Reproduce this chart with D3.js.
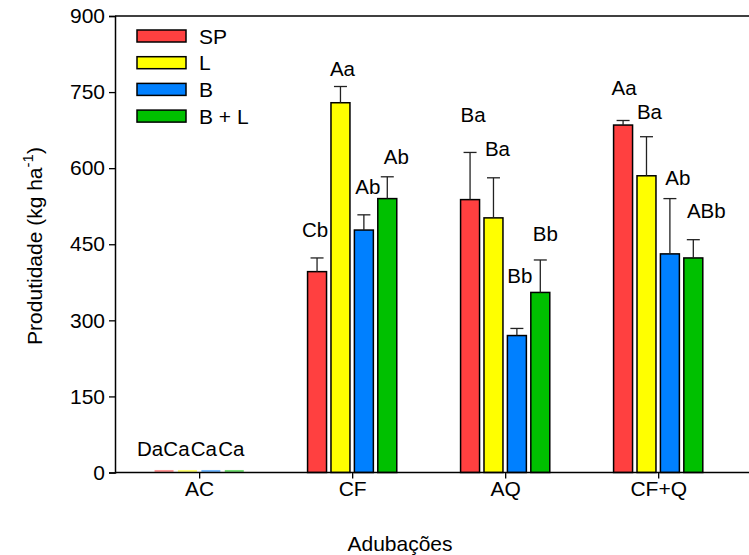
<!DOCTYPE html>
<html>
<head>
<meta charset="utf-8">
<script src="https://cdn.jsdelivr.net/npm/d3@7"></script>
<style>
  html, body { margin: 0; padding: 0; background: #fff; }
  text { font-family: "Liberation Sans", Arial, Helvetica, sans-serif; fill: #000; }
</style>
</head>
<body>
<svg id="chart" width="749" height="555"></svg>
<script>
// ---- data ----
const categories = ["AC", "CF", "AQ", "CF+Q"];
const seriesNames = ["SP", "L", "B", "B + L"];
const seriesColors = ["#ff4040", "#ffff00", "#0080ff", "#00c000"];
// mean yield per series (rows) and category (columns)
const meanSP  = [4, 396, 538, 685];
const meanL   = [4, 729, 502, 585];
const meanB   = [4, 478, 270, 431];
const meanBL  = [4, 540, 355, 423];
// upper error (standard error) per series
const errSP   = [0, 27, 93, 9];
const errL    = [0, 32, 79, 77];
const errB    = [0, 30, 14, 109];
const errBL   = [0, 43, 64, 36];
// significance letters
const lettersSP = ["Da", "Cb", "Ba", "Aa"];
const lettersL  = ["Ca", "Aa", "Ba", "Ba"];
const lettersB  = ["Ca", "Ab", "Bb", "Ab"];
const lettersBL = ["Ca", "Ab", "Bb", "ABb"];
// height (in yield units) at which each letter is written
const letterLevelSP = [33, 465, 691, 744];
const letterLevelL  = [33, 782, 624, 697];
const letterLevelB  = [33, 550, 374, 567];
const letterLevelBL = [33, 608, 457, 502];
const yTicks = [0, 150, 300, 450, 600, 750, 900];

// ---- layout constants (not data) ----
// small horizontal nudges of the letter annotations, in pixels
const letterNudge = [
  [-14, -2, 3, 1],
  [-11, 2, 4, 3],
  [-7, 4, 3, 8],
  [-3, 9, 5, 13]
];

const means = [meanSP, meanL, meanB, meanBL];
const errs = [errSP, errL, errB, errBL];
const letters = [lettersSP, lettersL, lettersB, lettersBL];
const letterLevels = [letterLevelSP, letterLevelL, letterLevelB, letterLevelBL];

const W = 749, H = 555;
const svg = d3.select("#chart");
const x = d3.scaleLinear().domain([0.45, 4.6]).range([115, 750]);
const y = d3.scaleLinear().domain([0, 900]).range([472.5, 16]);
const barStep = 0.153;   // in category units
const barWidth = 0.124;
const FS = 21;
const LFS = 20.5;

const records = [];
seriesNames.forEach((s, j) => {
  categories.forEach((c, i) => {
    records.push({ s: j, c: i, v: means[j][i], e: errs[j][i], lab: letters[j][i], lv: letterLevels[j][i], nx: letterNudge[j][i] });
  });
});
const cx = d => x(d.c + 1 + (d.s - 1.5) * barStep);
const bw = x(1 + barWidth) - x(1);
const tall = d => y(0) - y(d.v) > 4;

// bars
svg.append("g").selectAll("rect").data(records).join("rect")
  .attr("x", d => cx(d) - bw / 2)
  .attr("y", d => y(d.v) - (tall(d) ? 0 : 0.5))
  .attr("width", bw)
  .attr("height", d => y(0) - y(d.v))
  .attr("fill", d => seriesColors[d.s])
  .attr("fill-opacity", d => (tall(d) ? 1 : 0.55))
  .attr("stroke", d => (tall(d) ? "#000" : "none"))
  .attr("stroke-width", 1.5);

// error bars (upper only)
const eb = svg.append("g").attr("stroke", "#222").attr("stroke-width", 1.3);
records.filter(d => d.e > 0).forEach(d => {
  eb.append("line").attr("x1", cx(d)).attr("x2", cx(d)).attr("y1", y(d.v)).attr("y2", y(d.v + d.e));
  eb.append("line").attr("x1", cx(d) - 6.5).attr("x2", cx(d) + 6.5).attr("y1", y(d.v + d.e)).attr("y2", y(d.v + d.e));
});

// letters
svg.append("g").selectAll("text").data(records).join("text")
  .attr("x", d => cx(d) + d.nx)
  .attr("y", d => y(d.lv))
  .attr("text-anchor", "middle")
  .style("font-size", LFS + "px")
  .text(d => d.lab);

// y axis
const yAxis = svg.append("g").attr("transform", `translate(${x(0.45)},0)`)
  .call(d3.axisLeft(y).tickValues(yTicks).tickSize(6).tickPadding(4).tickFormat(d3.format("d")));
yAxis.select(".domain").attr("stroke", "#000").attr("stroke-width", 1.5);
yAxis.selectAll(".tick line").attr("stroke", "#000").attr("stroke-width", 1.3);
yAxis.selectAll(".tick text").style("font-size", FS + "px").style("font-family", '"Liberation Sans", Arial, sans-serif');

// x axis
const xAxis = svg.append("g").attr("transform", `translate(0,${y(0)})`)
  .call(d3.axisBottom(x).tickValues([1, 2, 3, 4]).tickSize(6).tickPadding(3).tickFormat(d => categories[d - 1]));
xAxis.select(".domain").attr("d", `M${x(0.45)},0H${W}`).attr("stroke", "#000").attr("stroke-width", 1.5);
xAxis.selectAll(".tick line").attr("stroke", "#000").attr("stroke-width", 1.3);
xAxis.selectAll(".tick text").style("font-size", FS + "px").style("font-family", '"Liberation Sans", Arial, sans-serif');

// top frame line
svg.append("line").attr("x1", x(0.45)).attr("x2", W).attr("y1", y(900)).attr("y2", y(900))
  .attr("stroke", "#000").attr("stroke-width", 1.5);

// axis titles
svg.append("text").attr("x", 400).attr("y", 551).attr("text-anchor", "middle")
  .style("font-size", FS + "px").text("Adubações");
const yt = svg.append("text").attr("transform", "translate(42,246) rotate(-90)")
  .attr("text-anchor", "middle").style("font-size", FS + "px");
yt.append("tspan").text("Produtidade (kg ha");
yt.append("tspan").attr("dy", -9).style("font-size", "15px").text("-1");
yt.append("tspan").attr("dy", 9).text(")");

// legend
const leg = svg.append("g");
seriesNames.forEach((s, j) => {
  const cy = 36 + j * 26.7;
  leg.append("rect").attr("x", 137).attr("y", cy - 6).attr("width", 49).attr("height", 12)
    .attr("fill", seriesColors[j]).attr("stroke", "#000").attr("stroke-width", 1.5);
  leg.append("text").attr("x", 199).attr("y", cy + 7.5).style("font-size", FS + "px").text(s);
});
</script>
</body>
</html>
